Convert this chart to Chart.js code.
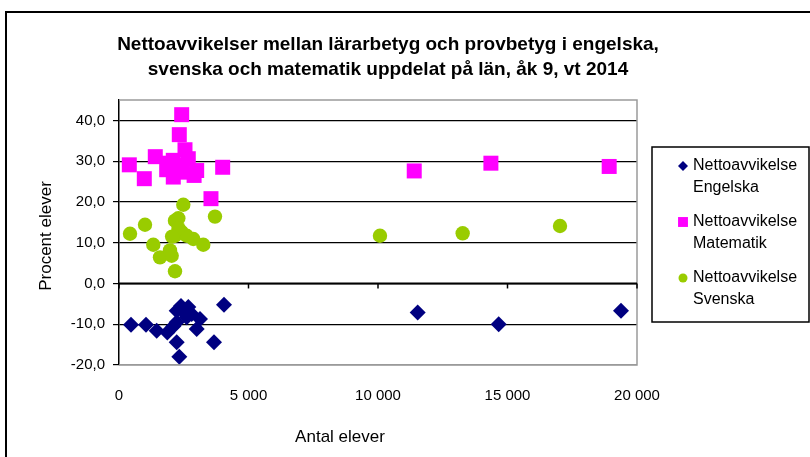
<!DOCTYPE html>
<html>
<head>
<meta charset="utf-8">
<script src="https://cdn.jsdelivr.net/npm/chart.js@4.4.1/dist/chart.umd.min.js"></script>
<style>
  html, body { margin: 0; padding: 0; background: #fff; }
  #wrap { width: 810px; height: 457px; position: relative; }
</style>
</head>
<body>
<div id="wrap"><canvas id="c" width="810" height="457"></canvas></div>
<script>
// ---- Data ----
const chartTitle = ["Nettoavvikelser mellan lärarbetyg och provbetyg i engelska,",
                    "svenska och matematik uppdelat på län, åk 9, vt 2014"];
const xAxisTitle = "Antal elever";
const yAxisTitle = "Procent elever";
const seriesNames = ["Nettoavvikelse Engelska", "Nettoavvikelse Matematik", "Nettoavvikelse Svenska"];
const legendLines = [["Nettoavvikelse", "Engelska"], ["Nettoavvikelse", "Matematik"], ["Nettoavvikelse", "Svenska"]];
const xTickValues = [0, 5000, 10000, 15000, 20000];
const yTickValues = [-20, -10, 0, 10, 20, 30, 40];

// Engelska: [antal elever, procent]
const engelskaX = [463, 1042, 1455, 1865, 2227, 2394, 2675, 2806, 3127, 3000, 2227, 2328, 3667, 4053, 2227, 2613, 2500, 2100, 11532, 14660, 19382];
const engelskaY = [-10.1, -10.1, -11.6, -12.0, -9.5, -5.5, -5.8, -7.5, -8.7, -11.2, -14.4, -18.0, -14.4, -5.2, -6.7, -8.3, -7.0, -10.5, -7.1, -10.0, -6.7];

const matematikX = [398, 977, 1401, 2420, 2328, 2548, 2675, 2096, 1841, 2096, 2355, 2999, 4003, 3551, 1900, 2200, 2450, 2900, 11399, 14359, 18926];
const matematikY = [29.1, 25.7, 31.1, 41.4, 36.5, 32.8, 30.6, 30.2, 27.9, 26.1, 27.3, 27.7, 28.5, 20.8, 29.5, 28.5, 29.0, 26.5, 27.6, 29.5, 28.7];

const svenskaX = [425, 1004, 2483, 2290, 2162, 3706, 1324, 2162, 2420, 2869, 3254, 1583, 2034, 1969, 2162, 2613, 2300, 2050, 10076, 13269, 17027];
const svenskaY = [12.2, 14.4, 19.3, 16.0, 15.4, 16.4, 9.5, 11.7, 12.6, 10.9, 9.5, 6.4, 6.8, 8.1, 3.0, 11.7, 13.5, 11.5, 11.7, 12.3, 14.1];

const colors = ["#000080", "#FF00FF", "#99CC00"];
const pointStyles = ["rectRot", "rect", "circle"];
const pointRadii = [8, 10.6, 7.2];
const legendRadii = [5, 7, 4.5];

function toPoints(xs, ys) { return xs.map((x, i) => ({ x: x, y: ys[i] })); }

const FONT = "'Liberation Sans', Arial, sans-serif";

const decorPlugin = {
  id: 'decor',
  beforeDraw(chart) {
    const ctx = chart.ctx;
    ctx.save();
    ctx.fillStyle = '#fff';
    ctx.fillRect(0, 0, chart.width, chart.height);
    ctx.strokeStyle = '#000';
    ctx.lineWidth = 2;
    ctx.strokeRect(6, 12, 900, 600);
    ctx.restore();
  },
  afterDatasetsDraw(chart) {
    const ctx = chart.ctx;
    const a = chart.chartArea;
    const xs = chart.scales.x, ys = chart.scales.y;
    ctx.save();
    ctx.strokeStyle = '#9a9a9a';
    ctx.lineWidth = 1.5;
    ctx.beginPath();
    ctx.moveTo(a.left, a.top); ctx.lineTo(a.right, a.top);
    ctx.lineTo(a.right, a.bottom); ctx.lineTo(a.left, a.bottom);
    ctx.stroke();
    const y0 = ys.getPixelForValue(0);
    ctx.strokeStyle = '#000';
    ctx.lineWidth = 2;
    ctx.beginPath();
    ctx.moveTo(a.left, y0); ctx.lineTo(a.right, y0);
    ctx.stroke();
    ctx.lineWidth = 1.5;
    xTickValues.forEach(v => {
      const px = xs.getPixelForValue(v);
      ctx.beginPath();
      ctx.moveTo(px, y0); ctx.lineTo(px, y0 + 5);
      ctx.stroke();
    });
    ctx.restore();
  },
  afterDraw(chart) {
    const ctx = chart.ctx;
    ctx.save();
    ctx.fillStyle = '#000';
    ctx.font = "bold 19px " + FONT;
    ctx.textAlign = 'center';
    ctx.textBaseline = 'middle';
    ctx.fillText(chartTitle[0], 388, 45);
    ctx.fillText(chartTitle[1], 388, 70);
    ctx.font = "17px " + FONT;
    ctx.fillText(xAxisTitle, 340, 437);
    ctx.save();
    ctx.translate(46, 236);
    ctx.rotate(-Math.PI / 2);
    ctx.fillText(yAxisTitle, 0, 0);
    ctx.restore();
    // Legend
    ctx.strokeStyle = '#000';
    ctx.lineWidth = 1.5;
    ctx.strokeRect(652, 147, 157, 175);
    const rows = [166, 222, 278];
    ctx.textAlign = 'left';
    ctx.font = "16px " + FONT;
    chart.data.datasets.forEach((ds, i) => {
      const ly = rows[i];
      ctx.fillStyle = colors[i];
      Chart.helpers.drawPoint(ctx, {
        pointStyle: pointStyles[i], rotation: 0, radius: legendRadii[i], borderWidth: 0
      }, 683, ly);
      ctx.fillStyle = '#000';
      ctx.fillText(legendLines[i][0], 693, ly);
      ctx.fillText(legendLines[i][1], 693, ly + 22);
    });
    ctx.restore();
  }
};

const chart = new Chart(document.getElementById('c'), {
  type: 'scatter',
  data: {
    datasets: [
      { label: seriesNames[0], data: toPoints(engelskaX, engelskaY) },
      { label: seriesNames[1], data: toPoints(matematikX, matematikY) },
      { label: seriesNames[2], data: toPoints(svenskaX, svenskaY) }
    ].map((d, i) => Object.assign(d, {
      backgroundColor: colors[i],
      borderColor: colors[i],
      borderWidth: 0,
      pointStyle: pointStyles[i],
      pointRadius: pointRadii[i],
      pointHoverRadius: pointRadii[i]
    }))
  },
  options: {
    responsive: false,
    animation: false,
    events: [],
    layout: { padding: { left: 0, top: 100, right: 173, bottom: 0 } },
    plugins: { legend: { display: false }, title: { display: false }, tooltip: { enabled: false } },
    scales: {
      x: {
        type: 'linear', min: 0, max: 20000,
        afterBuildTicks(s) { s.ticks = xTickValues.map(v => ({ value: v })); },
        afterFit(s) { s.height = 92; },
        border: { display: false },
        grid: { display: false, drawTicks: false },
        ticks: {
          padding: 22, color: '#000', font: { family: FONT, size: 15 },
          maxRotation: 0,
          callback: v => v === 0 ? '0' : String(v).replace(/\B(?=(\d{3})+(?!\d))/g, ' ')
        }
      },
      y: {
        type: 'linear', min: -20, max: 45,
        afterBuildTicks(s) { s.ticks = yTickValues.map(v => ({ value: v })); },
        afterFit(s) { s.width = 119; },
        border: { display: true, color: '#000', width: 1.5 },
        grid: {
          color: c => (c.tick && c.tick.value === -20) ? '#9a9a9a' : '#000',
          lineWidth: 1.2, tickColor: '#000', tickLength: 6
        },
        ticks: {
          padding: 8, color: '#000', font: { family: FONT, size: 15 },
          callback: v => v.toFixed(1).replace('.', ',')
        }
      }
    }
  },
  plugins: [decorPlugin]
});
</script>
</body>
</html>
